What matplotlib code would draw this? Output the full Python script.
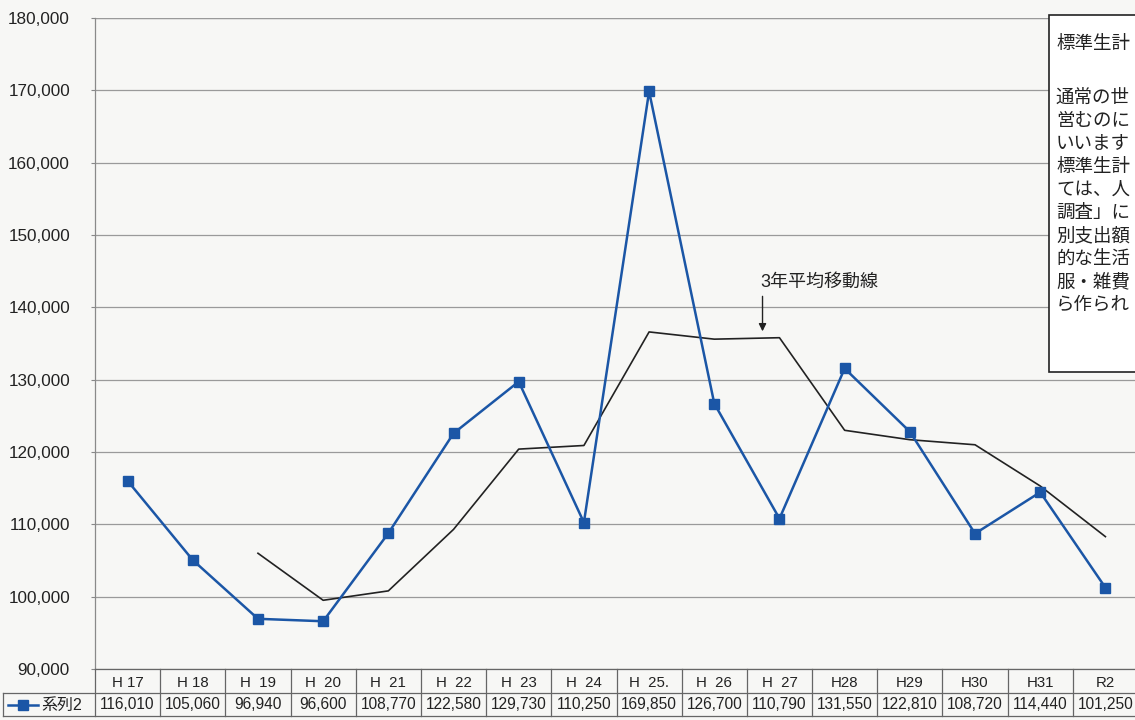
import matplotlib
matplotlib.use("Agg")
import matplotlib.pyplot as plt
from matplotlib.patches import Rectangle
from matplotlib.lines import Line2D
from matplotlib import transforms
import numpy as np

plt.rcParams['font.family'] = ['Liberation Sans', 'Noto Sans CJK JP', 'DejaVu Sans']

categories = ["H 17", "H 18", "H  19", "H  20", "H  21", "H  22", "H  23", "H  24",
              "H  25.", "H  26", "H  27", "H28", "H29", "H30", "H31", "R2"]
series2 = [116010, 105060, 96940, 96600, 108770, 122580, 129730, 110250,
           169850, 126700, 110790, 131550, 122810, 108720, 114440, 101250]
moving_avg = [np.nan, np.nan, 106000, 99500, 100800, 109300, 120400, 120900,
              136600, 135600, 135800, 123000, 121700, 121000, 115300, 108300]
series_name = "系列2"
yticks = [90000, 100000, 110000, 120000, 130000, 140000, 150000, 160000, 170000, 180000]
annot_text = "3年平均移動線"
box_lines = ["標準生計", "", "通常の世", "営むのに", "いいます", "標準生計",
             "ては、人", "調査」に", "別支出額", "的な生活", "服・雑費",
             "ら作られ"]

W, H = 1135, 720
fig = plt.figure(figsize=(W / 100, H / 100), dpi=100)
bg = "#f7f7f5"
fig.patch.set_facecolor(bg)

left, right, top, bottom = 95, 1138, 18, 669
ax = fig.add_axes([left / W, 1 - bottom / H, (right - left) / W, (bottom - top) / H])
ax.set_facecolor(bg)

x = np.arange(len(categories))
blue = "#1b56a6"
ax.plot(x, series2, color=blue, lw=1.8, marker="s", ms=7.6, mfc=blue, mec=blue, zorder=4)
ax.plot(x, moving_avg, color="#222222", lw=1.2, zorder=3)

ax.set_xlim(-0.5, len(categories) - 0.5)
ax.set_ylim(90000, 180000)
ax.set_yticks(yticks)
ax.set_yticklabels([f"{v:,}" for v in yticks], fontsize=12.3)
ax.set_xticks([])
ax.tick_params(axis="y", length=3, width=0.8, color="#888888", pad=15, labelcolor="#222222")
ax.grid(axis="y", color="#9a9a9a", lw=0.9)
for s in ["top", "right", "bottom"]:
    ax.spines[s].set_visible(False)
ax.spines["left"].set_color("#8a8a8a")
ax.spines["left"].set_linewidth(0.9)
ax.axhline(180000, color="#9a9a9a", lw=0.9)

# annotation
ax.annotate("", xy=(9.74, 136300), xytext=(9.74, 141900),
            arrowprops=dict(arrowstyle="-|>", color="#222222", lw=1.0, mutation_scale=11))
ax.text(9.7, 142300, annot_text, fontsize=13, ha="left", va="bottom", color="#222222")

# data table
tr = transforms.blended_transform_factory(ax.transData, fig.transFigure)
def fy(py):
    return 1 - py / H
row1_top, row2_top, row2_bot = 669, 693, 716
grid_c = "#666666"
fig.add_artist(Line2D([0.003, 1], [fy(row2_top)] * 2, transform=fig.transFigure, color=grid_c, lw=0.9))
fig.add_artist(Line2D([0.003, 1], [fy(row2_bot)] * 2, transform=fig.transFigure, color=grid_c, lw=0.9))
fig.add_artist(Line2D([left / W, 1], [fy(row1_top)] * 2, transform=fig.transFigure, color=grid_c, lw=0.9))
fig.add_artist(Line2D([0.003, 0.003], [fy(row2_top), fy(row2_bot)], transform=fig.transFigure, color=grid_c, lw=0.9))
for i in range(len(categories) + 1):
    fig.add_artist(Line2D([i - 0.5, i - 0.5], [fy(row1_top), fy(row2_bot)], transform=tr, color=grid_c, lw=0.9))
for i, (c, v) in enumerate(zip(categories, series2)):
    fig.text(i, fy((row1_top + row2_top) / 2 + 2), c, transform=tr, ha="center", va="center",
             fontsize=10.8, color="#222222")
    fig.text(i, fy((row2_top + row2_bot) / 2), f"{v:,}", transform=tr, ha="center", va="center",
             fontsize=11.2, color="#222222")
# legend key in table
fig.add_artist(Line2D([8 / W, 38 / W], [fy(705)] * 2, transform=fig.transFigure, color=blue, lw=1.8, zorder=5))
fig.add_artist(Line2D([23 / W], [fy(705)], transform=fig.transFigure, color=blue, marker="s", ms=7.2,
                      lw=0, zorder=5))
fig.text(41 / W, fy(705), series_name, ha="left", va="center", fontsize=11.5, color="#222222")

# text box (cropped at right edge)
bx0, by0, by1 = 1049, 15, 372
fig.add_artist(Rectangle((bx0 / W, fy(by1)), (W + 20 - bx0) / W, (by1 - by0) / H, transform=fig.transFigure,
                         facecolor="white", edgecolor="#222222", lw=1.2, zorder=6))
ys = [44, 0, 98, 121, 144, 167, 190, 213, 236, 259, 282, 305]
for line, py in zip(box_lines, ys):
    if line:
        fig.text(1056 / W, fy(py), line, ha="left", va="center", fontsize=13.3,
                 family=["Noto Sans CJK JP", "DejaVu Sans"], color="#222222", zorder=7)

fig.savefig("out.png", dpi=100, facecolor=bg)
